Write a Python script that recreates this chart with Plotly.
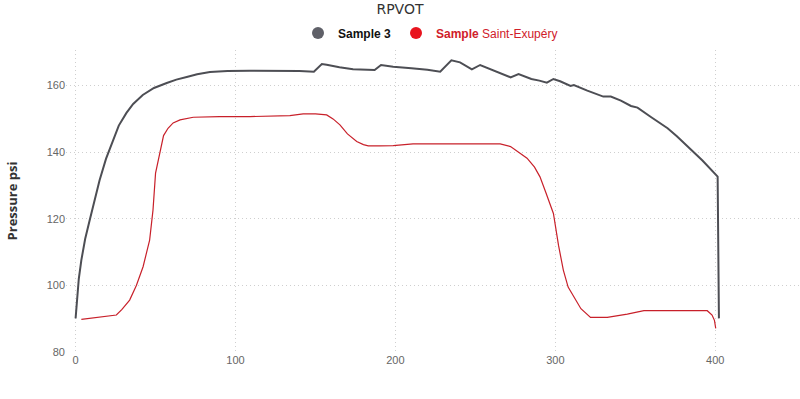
import plotly.graph_objects as go

gray_x = [0, 1, 2, 3.6, 6, 8.8, 12, 15, 19, 23.3, 27, 31.8, 36, 42, 49, 57, 63, 69.5, 76, 84, 95, 109, 125, 140, 149, 154, 157, 165, 173.5, 187, 191, 198.6, 210, 220, 228, 235, 240.4, 247.8, 253, 263.4, 272, 277, 285, 290, 294.7, 298.8, 303, 309.5, 311.6, 320, 330, 334.7, 341, 347.3, 351.4, 360, 370.2, 376, 382.7, 392, 401.5, 402.3]
gray_y = [90.1, 96, 102, 107.6, 114, 119.6, 126, 131.6, 138, 143.7, 148, 151.8, 154.5, 157.2, 159.3, 160.8, 161.8, 162.6, 163.4, 164.1, 164.4, 164.5, 164.5, 164.4, 164.2, 166.5, 166.3, 165.5, 164.9, 164.7, 166.2, 165.7, 165.2, 164.8, 164.2, 167.6, 167, 164.9, 166.2, 164.2, 162.5, 163.5, 162, 161.5, 160.9, 162, 161.3, 159.9, 160.2, 158.5, 156.7, 156.7, 155.5, 153.9, 153.4, 150.5, 147.2, 144.8, 141.7, 137.5, 132.7, 90.1]

red_x = [3.6, 10, 18, 25.5, 29, 33.8, 38, 42.2, 46.3, 48.4, 50, 52.6, 55, 57.8, 61, 65.3, 73.6, 90, 109, 134, 142.3, 150, 157, 161, 165.3, 170, 175.8, 180, 183, 190, 198.6, 211, 240, 265.5, 272, 278, 282.3, 287, 290.4, 294, 298.8, 302, 305, 308, 311.6, 316, 322, 332.5, 345, 355.4, 370, 395, 398, 399.5, 400.3]
red_y = [89.8, 90.2, 90.6, 91.1, 92.8, 95.6, 100, 105.6, 113.6, 122.6, 133.7, 139.7, 145, 147.2, 148.8, 149.7, 150.5, 150.7, 150.7, 151, 151.5, 151.5, 151.2, 150, 148.2, 145.5, 143.2, 142.3, 141.9, 141.9, 142, 142.5, 142.5, 142.5, 141.7, 139.7, 138.2, 135.5, 132.6, 128, 121.6, 112, 104.6, 99.5, 96.6, 93, 90.4, 90.4, 91.4, 92.4, 92.4, 92.4, 91.1, 89.5, 87.1]

x_ticks = [0, 100, 200, 300, 400]
y_ticks = [80, 100, 120, 140, 160]

GRAY = "#4d4e54"
RED = "#c8202a"

fig = go.Figure()
fig.add_trace(go.Scatter(x=gray_x, y=gray_y, mode="lines",
                         line=dict(color=GRAY, width=2), showlegend=False))
fig.add_trace(go.Scatter(x=red_x, y=red_y, mode="lines",
                         line=dict(color=RED, width=1.2), showlegend=False))
fig.add_trace(go.Scatter(x=[None], y=[None], mode="markers",
                         marker=dict(color="#5f6068", size=10),
                         name="<b>Sample 3</b>"))
fig.add_trace(go.Scatter(x=[None], y=[None], mode="markers",
                         marker=dict(color="#e8141e", size=10),
                         name="<span style='color:#d0202a'><b>Sample</b> Saint-Exupéry</span>"))

grid = dict(showgrid=True, gridcolor="#cfcfcf", griddash="1px,3px", gridwidth=1,
            zeroline=False, showline=False, ticks="", automargin=False,
            tickfont=dict(family="Liberation Sans, Arial, sans-serif", size=11, color="#666666"))

fig.update_layout(
    width=800, height=399,
    margin=dict(l=66, r=0, t=50, b=47),
    paper_bgcolor="white", plot_bgcolor="white",
    title=dict(text="RPVOT", x=0.5, xanchor="center", y=0.978, yanchor="middle",
               yref="container",
               font=dict(family="DejaVu Sans, sans-serif", size=14, color="#333333")),
    legend=dict(orientation="h", x=(298 - 66) / 734, xanchor="left", y=1 - 33 / 399, yanchor="middle",
                yref="container",
                font=dict(family="Liberation Sans, Arial, sans-serif", size=12, color="#111111"),
                itemsizing="constant", itemwidth=30, tracegroupgap=0),
    xaxis=dict(range=[-6, 453], tickvals=x_ticks, **grid),
    yaxis=dict(range=[80, 170.7], tickvals=y_ticks,
               title=dict(text="<b>Pressure psi</b>", standoff=26,
                          font=dict(family="Open Sans, sans-serif", size=13, color="#333333")),
               **grid),
)

fig.write_html("out.html", config={"displayModeBar": False},
               post_script="document.body.style.margin='0';")
